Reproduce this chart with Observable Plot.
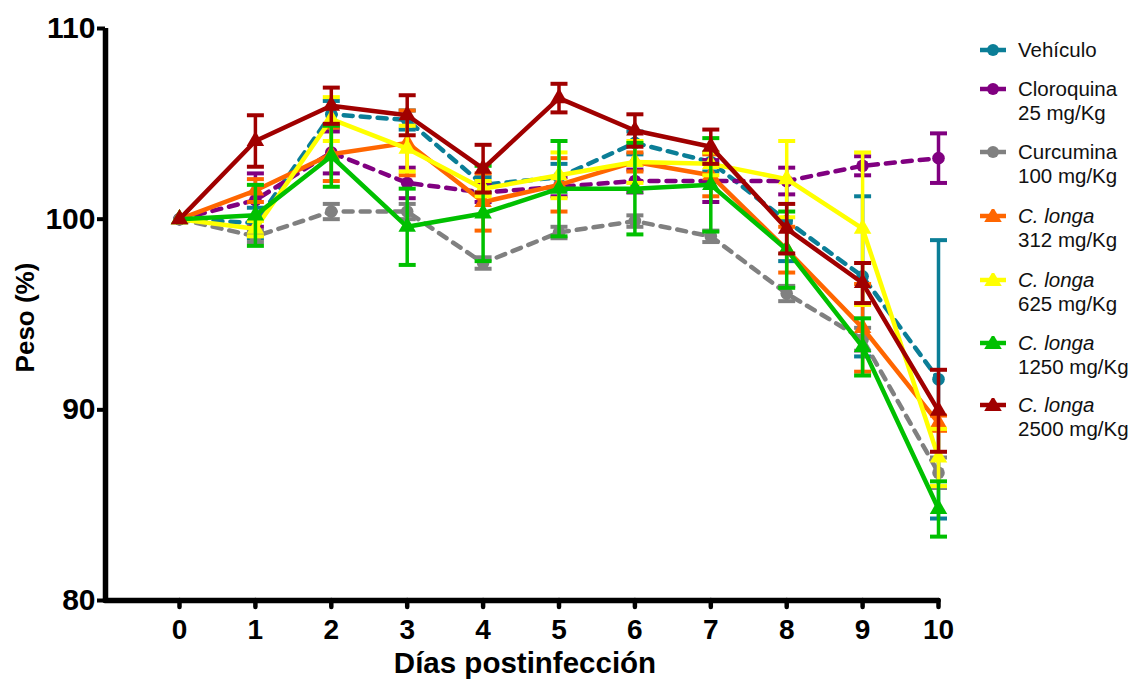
<!DOCTYPE html>
<html><head><meta charset="utf-8">
<script src="https://cdn.jsdelivr.net/npm/d3@7"></script>
<script src="https://cdn.jsdelivr.net/npm/@observablehq/plot@0.6"></script>
<style>
body{margin:0;background:#fff;font-family:"Liberation Sans",Arial,sans-serif;}
#wrap{position:relative;width:1135px;height:679px;overflow:hidden;}
#chart{position:absolute;left:0;top:0;}
.item{position:absolute;left:978px;display:flex;align-items:flex-start;}
.item svg{flex:none;margin-top:5px;}
.item .t{margin-left:10px;font-size:20.5px;line-height:24px;color:#111;white-space:nowrap;}
</style></head><body>
<div id="wrap"><div id="chart"></div><div id="legend"></div></div>
<script>
// ---- data ----
const days = [0, 1, 2, 3, 4, 5, 6, 7, 8, 9, 10];
const yTicks = [80, 90, 100, 110];

const vehiculo    = [100, 99.8, 105.5, 105.2, 101.8, 102.2, 104.0, 103.0, 99.9, 97.0, 91.6];
const vehiculoErr = [0, 0.8, 0.7, 0.5, 0.4, 0.7, 0.6, 0.5, 2.1, 4.2, 7.3];

const cloroquina    = [100, 101.0, 103.5, 101.9, 101.4, 101.7, 102.0, 102.0, 102.0, 102.8, 103.2];
const cloroquinaErr = [0, 1.4, 1.1, 0.8, 0.5, 0.5, 0.6, 1.1, 0.7, 0.5, 1.3];

const curcumina    = [100, 99.1, 100.4, 100.4, 97.7, 99.3, 99.9, 99.1, 96.1, 93.7, 86.7];
const curcuminaErr = [0, 0.3, 0.4, 0.4, 0.3, 0.3, 0.3, 0.3, 0.4, 0.6, 0.8];

const longa312    = [100, 101.5, 103.4, 104.0, 100.9, 101.8, 103.0, 102.3, 98.4, 94.3, 89.3];
const longa312Err = [0, 0.6, 1.4, 1.7, 1.5, 1.4, 0.5, 1.1, 1.2, 2.3, 0.4];

const longa625    = [100, 99.5, 105.25, 103.7, 101.6, 102.3, 103.0, 102.9, 102.1, 99.5, 87.5];
const longa625Err = [0, 0.4, 1.15, 1.2, 0.4, 1.2, 1.1, 0.6, 2.0, 4.0, 1.5];

const longa1250    = [100, 100.2, 103.3, 99.6, 100.3, 101.6, 101.6, 101.8, 98.4, 93.3, 84.8];
const longa1250Err = [0, 1.6, 1.6, 2.0, 2.5, 2.5, 2.4, 2.45, 2.0, 1.5, 1.45];

const longa2500    = [100, 104.1, 105.95, 105.45, 102.65, 106.35, 104.65, 103.8, 99.5, 96.65, 89.95];
const longa2500Err = [0, 1.35, 0.95, 1.05, 1.25, 0.75, 0.85, 0.9, 1.3, 1.05, 2.15];

const series = [
  {name: "Vehículo", sub: null, italic: false, values: vehiculo, errs: vehiculoErr, color: "#0B7E97", dash: "9,8", symbol: "circle"},
  {name: "Cloroquina", sub: "25 mg/Kg", italic: false, values: cloroquina, errs: cloroquinaErr, color: "#800080", dash: "9,8", symbol: "circle"},
  {name: "Curcumina", sub: "100 mg/Kg", italic: false, values: curcumina, errs: curcuminaErr, color: "#808080", dash: "9,8", symbol: "circle"},
  {name: "C. longa", sub: "312 mg/Kg", italic: true, values: longa312, errs: longa312Err, color: "#FF6600", dash: null, symbol: "triangle"},
  {name: "C. longa", sub: "625 mg/Kg", italic: true, values: longa625, errs: longa625Err, color: "#FFFF00", dash: null, symbol: "triangle"},
  {name: "C. longa", sub: "1250 mg/Kg", italic: true, values: longa1250, errs: longa1250Err, color: "#00C000", dash: null, symbol: "triangle"},
  {name: "C. longa", sub: "2500 mg/Kg", italic: true, values: longa2500, errs: longa2500Err, color: "#A00000", dash: null, symbol: "triangle"}
];

// ---- marks ----
const capSymbol = {draw(ctx, size) { const r = Math.sqrt(size / Math.PI); ctx.moveTo(-r, 0); ctx.lineTo(r, 0); }};
const font = "Liberation Sans, Arial, sans-serif";

const marks = [];
for (const s of series) {
  const rows = days.map((d, i) => ({day: d, value: s.values[i], lo: s.values[i] - s.errs[i], hi: s.values[i] + s.errs[i], err: s.errs[i]}));
  const withErr = rows.filter(r => r.err > 0);
  marks.push(
    Plot.ruleX(withErr, {x: "day", y1: "lo", y2: "hi", stroke: s.color, strokeWidth: 3.5}),
    Plot.dot(withErr, {x: "day", y: "lo", symbol: capSymbol, r: 8.5, stroke: s.color, strokeWidth: 4, fill: "none"}),
    Plot.dot(withErr, {x: "day", y: "hi", symbol: capSymbol, r: 8.5, stroke: s.color, strokeWidth: 4, fill: "none"}),
    Plot.line(rows, {x: "day", y: "value", stroke: s.color, strokeWidth: 4.5, strokeDasharray: s.dash, strokeLinecap: s.dash ? "round" : "butt", strokeLinejoin: "round"}),
    Plot.dot(rows, {x: "day", y: "value", symbol: s.symbol, r: s.symbol === "circle" ? 6.3 : 6.5, fill: s.color, stroke: "none"})
  );
}

const chart = Plot.plot({
  width: 960,
  height: 679,
  marginLeft: 105,
  marginRight: 22,
  marginTop: 28,
  marginBottom: 79,
  style: {fontFamily: font, fontWeight: "bold", color: "#000", background: "#fff"},
  x: {domain: [-0.975, 10]},
  y: {domain: [80, 110]},
  marks: [
    Plot.axisY({ticks: yTicks, tickSize: 8, tickPadding: 2, strokeWidth: 4, fontSize: 30, fontWeight: "bold", label: null, fill: "#000"}),
    Plot.axisX({ticks: days, tickSize: 7, tickPadding: 12, strokeWidth: 4.5, strokeLinecap: "round", fontSize: 28, fontWeight: "bold", label: null, fill: "#000"}),
    Plot.ruleX([-0.975], {stroke: "#000", strokeWidth: 5.5}),
    Plot.ruleY([80], {stroke: "#000", strokeWidth: 5.5, strokeLinecap: "round"}),
    Plot.text(["Días postinfección"], {text: d => d, frameAnchor: "bottom", lineAnchor: "middle", textAnchor: "middle", dy: 63, dx: 3, fontSize: 29.5, fontWeight: "bold", fill: "#000"}),
    Plot.text(["Peso (%)"], {text: d => d, frameAnchor: "left", lineAnchor: "middle", textAnchor: "middle", dx: -80, dy: 3, rotate: -90, fontSize: 26, fontWeight: "bold", fill: "#000"}),
    ...marks
  ]
});
document.getElementById("chart").appendChild(chart);

// ---- legend ----
const legendCenters = [50, 89, 152, 216, 280, 343, 405];
const legend = document.getElementById("legend");
series.forEach((s, i) => {
  const item = document.createElement("div");
  item.className = "item";
  item.style.top = (legendCenters[i] - 12) + "px";
  const marker = s.symbol === "circle"
    ? `<circle cx="15" cy="7" r="6" fill="${s.color}"/>`
    : `<path transform="translate(15,8)" d="${d3.symbol(d3.symbolTriangle, Math.PI * 6.5 * 6.5)()}" fill="${s.color}"/>`;
  item.innerHTML = `<svg width="30" height="14"><line x1="2" x2="28" y1="7" y2="7" stroke="${s.color}" stroke-width="4.5"/>${marker}</svg>` +
    `<div class="t">${s.italic ? `<i>${s.name}</i>` : s.name}${s.sub ? `<br>${s.sub}` : ""}</div>`;
  legend.appendChild(item);
});
</script>
</body></html>
